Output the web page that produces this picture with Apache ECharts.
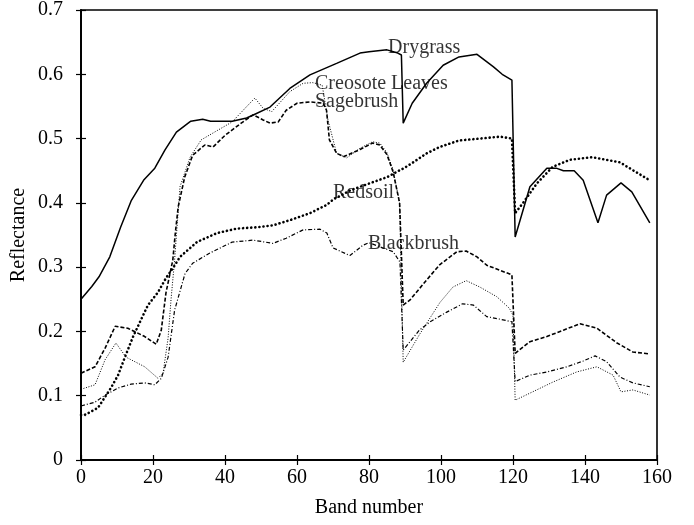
<!DOCTYPE html>
<html>
<head>
<meta charset="utf-8">
<script src="https://cdn.jsdelivr.net/npm/echarts@6/dist/echarts.min.js"></script>
<style>
  html, body { margin: 0; padding: 0; background: #fff; }
  #main { width: 694px; height: 525px; }
</style>
</head>
<body>
<div id="main"></div>
<script>
// [band, reflectance]
var drygrass = [[0,0.25],[3,0.27],[5,0.285],[8,0.316],[11,0.362],[14,0.404],[17.5,0.436],[20.5,0.454],[23.3,0.482],[26.5,0.51],[30.5,0.527],[33.8,0.53],[36,0.527],[42,0.527],[46,0.532],[48,0.537],[52.5,0.549],[58,0.578],[63.6,0.599],[71,0.617],[77.5,0.633],[80,0.635],[85,0.638],[88,0.633],[89,0.63],[89.5,0.524],[92,0.555],[96,0.586],[100.6,0.614],[105,0.627],[110,0.631],[114.5,0.612],[117,0.6],[119.7,0.591],[120.6,0.347],[124.7,0.425],[129.4,0.454],[132,0.454],[134,0.45],[137,0.45],[139.5,0.435],[143.6,0.369],[146,0.412],[150,0.431],[153,0.417],[158,0.369]];
var creosote = [[0,0.11],[3.9,0.117],[6.7,0.156],[9.7,0.182],[12.5,0.16],[17.7,0.145],[21.4,0.127],[22.8,0.135],[24.2,0.19],[25,0.249],[26,0.311],[27.5,0.425],[30.3,0.471],[33.4,0.498],[38,0.513],[42,0.526],[46.4,0.552],[48.3,0.563],[50.6,0.547],[53,0.542],[58,0.573],[61.7,0.586],[64.4,0.587],[67,0.583],[68.6,0.529],[71,0.477],[73.8,0.47],[77.5,0.485],[81,0.495],[83,0.493],[85,0.478],[86.7,0.451],[88.5,0.4],[89.5,0.152],[94,0.195],[99.7,0.245],[103.3,0.269],[107,0.279],[110.8,0.269],[115.5,0.254],[119,0.236],[120,0.225],[120.6,0.093],[124.7,0.104],[131,0.121],[137.7,0.137],[143.3,0.145],[147.8,0.132],[150,0.106],[153.3,0.109],[158,0.101]];
var sagebrush = [[0,0.135],[3.9,0.145],[6.7,0.174],[9.5,0.208],[13,0.205],[17.7,0.192],[20.9,0.18],[22.3,0.202],[23.6,0.26],[25.5,0.311],[26.2,0.353],[27,0.394],[28.8,0.44],[31,0.474],[34.4,0.49],[36.7,0.487],[40,0.505],[44.5,0.524],[47.8,0.537],[50.6,0.529],[52.5,0.524],[54.8,0.526],[57,0.544],[60,0.555],[63.6,0.557],[67.3,0.555],[68.2,0.544],[69,0.498],[71,0.477],[73,0.472],[77.5,0.483],[81,0.493],[83,0.49],[85,0.475],[86.7,0.448],[88.5,0.4],[89.5,0.241],[91.4,0.249],[96,0.28],[99.7,0.304],[104.4,0.324],[107,0.325],[110,0.316],[112.7,0.303],[116.4,0.295],[119.7,0.288],[120.6,0.166],[124.7,0.184],[129.4,0.192],[134,0.202],[138.6,0.212],[143.3,0.205],[148.9,0.182],[153.3,0.168],[158,0.165]];
var redsoil = [[0,0.07],[1,0.07],[4.7,0.081],[8.3,0.112],[10.3,0.132],[12.2,0.16],[14.4,0.191],[16.4,0.215],[18.6,0.241],[21.4,0.261],[23.6,0.283],[25.6,0.299],[27.5,0.316],[32.2,0.339],[37.8,0.353],[43.3,0.36],[48.9,0.362],[53.3,0.365],[58,0.373],[63.6,0.384],[68.3,0.397],[70,0.405],[75,0.42],[80,0.43],[85,0.44],[90,0.455],[92,0.462],[96,0.477],[99.7,0.487],[105,0.497],[110.8,0.5],[116.4,0.503],[119.7,0.5],[120.6,0.384],[122.8,0.4],[126.6,0.43],[131,0.456],[135.8,0.467],[142,0.471],[149.7,0.463],[158,0.435]];
var blackbrush = [[0,0.084],[3.9,0.09],[6.7,0.101],[10.3,0.112],[13.9,0.118],[17.7,0.12],[20.5,0.117],[22.3,0.127],[24.2,0.16],[26,0.233],[28.9,0.29],[31,0.306],[35.8,0.322],[42,0.339],[47.8,0.342],[53.3,0.337],[57,0.345],[61.7,0.358],[66.4,0.359],[68.3,0.353],[70,0.33],[74.7,0.318],[78.3,0.334],[80,0.338],[86.7,0.324],[88.6,0.308],[89.5,0.171],[94,0.202],[97,0.215],[101.6,0.23],[106,0.243],[109,0.241],[112.7,0.223],[116.4,0.219],[119.7,0.215],[120.6,0.122],[124.7,0.132],[129.4,0.137],[135,0.145],[139.5,0.154],[142.8,0.162],[146,0.153],[149.7,0.129],[153.3,0.12],[158,0.114]];

// curve names and where their text sits (band, reflectance)
var labelNames = ['Drygrass', 'Creosote Leaves', 'Sagebrush', 'Redsoil', 'Blackbrush'];
var labelPos = [[85.3, 0.641], [65, 0.586], [65, 0.557], [70, 0.415], [79.7, 0.337]];

var FONT = 'Liberation Serif';

var chart = echarts.init(document.getElementById('main'));

function curve(name, data, width, type, cap) {
    return {
        name: name,
        type: 'line',
        data: data,
        symbol: 'none',
        silent: true,
        lineStyle: { color: '#000', width: width, type: type, cap: cap || 'butt' }
    };
}

var labelData = labelNames.map(function (n, i) {
    return { name: n, value: labelPos[i] };
});

var tick = { inside: true, length: 5, lineStyle: { color: '#000', width: 1.2 } };
var line = { show: true, lineStyle: { color: '#000', width: 1.6 } };

var option = {
    backgroundColor: '#fff',
    animation: false,
    grid: { left: 81, right: 37, top: 10, bottom: 65, show: true, borderColor: '#000', borderWidth: 1.6 },
    xAxis: [{
        type: 'value', min: 0, max: 160, interval: 20,
        name: 'Band number', nameLocation: 'middle', nameGap: 38,
        nameTextStyle: { fontFamily: FONT, fontSize: 20, color: '#000' },
        axisLine: line,
        axisTick: tick,
        axisLabel: { fontFamily: FONT, fontSize: 20, color: '#000', margin: 8 },
        splitLine: { show: false }
    }, {
        type: 'value', min: 0, max: 160, interval: 20, position: 'top',
        axisLine: line,
        axisTick: tick,
        axisLabel: { show: false },
        splitLine: { show: false }
    }],
    yAxis: [{
        type: 'value', min: 0, max: 0.7, interval: 0.1,
        name: 'Reflectance', nameLocation: 'middle', nameGap: 52, nameMoveOverlap: false,
        nameTextStyle: { fontFamily: FONT, fontSize: 20, color: '#000' },
        axisLine: line,
        axisTick: { show: true, inside: true, length: 5, lineStyle: { color: '#000', width: 1.2 } },
        axisLabel: { fontFamily: FONT, fontSize: 20, color: '#000', margin: 18 },
        splitLine: { show: false }
    }, {
        type: 'value', min: 0, max: 0.7, interval: 0.1, position: 'right',
        axisLine: line,
        axisTick: { show: true, inside: true, length: 5, lineStyle: { color: '#000', width: 1.2 } },
        axisLabel: { show: false },
        splitLine: { show: false }
    }],
    series: [
        curve('Drygrass', drygrass, 1.5, 'solid'),
        curve('Creosote Leaves', creosote, 1, [1, 1.6]),
        curve('Sagebrush', sagebrush, 1.6, [4, 2]),
        curve('Redsoil', redsoil, 2.6, [0.1, 4], 'round'),
        curve('Blackbrush', blackbrush, 1.2, [4, 2, 1, 2]),
        {
            // empty series so the mirror axes on top and right get drawn
            type: 'line', xAxisIndex: 1, yAxisIndex: 1, data: [], silent: true
        },
        {
            type: 'scatter',
            data: labelData,
            symbolSize: 0,
            silent: true,
            label: {
                show: true,
                position: 'right',
                distance: 0,
                formatter: '{b}',
                fontFamily: FONT,
                fontSize: 20,
                color: '#000'
            }
        }
    ]
};

chart.setOption(option);
</script>
</body>
</html>
